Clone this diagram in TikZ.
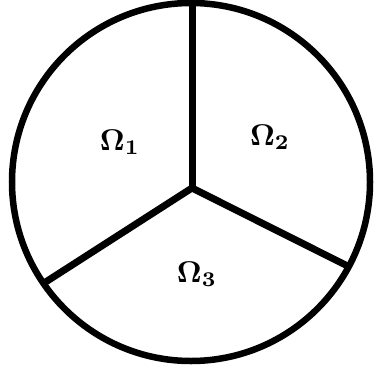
\documentclass[tikz,border=0pt]{standalone}
\usepackage{amsmath}
\usepackage{graphicx}
\newcommand{\biglab}[1]{\scalebox{3.0}{$\boldsymbol{#1}$}}
\begin{document}
\begin{tikzpicture}[x=1pt,y=1pt,
  rim/.style={line width=6.5pt},
  spoke/.style={line width=7pt, line join=miter},
  lab/.style={inner sep=0pt}]
\useasboundingbox (0,0) rectangle (374,368);
\coordinate (O) at (191,186);
\coordinate (C) at (192,180);
\draw[rim] (O) circle (179);
\coordinate (T) at (192,368);
\coordinate (L) at ([shift={(214.5:179)}]O);
\coordinate (R) at ([shift={(-28.2:179)}]O);
\draw[spoke] (T) -- (C);
\draw[spoke] (L) -- (C) -- (R);
\node[lab] (w1) at (120,226) {\biglab{\Omega_1}};
\node[lab] (w2) at (270,231) {\biglab{\Omega_2}};
\node[lab] (w3) at (197,94) {\biglab{\Omega_3}};
\end{tikzpicture}
\end{document}
